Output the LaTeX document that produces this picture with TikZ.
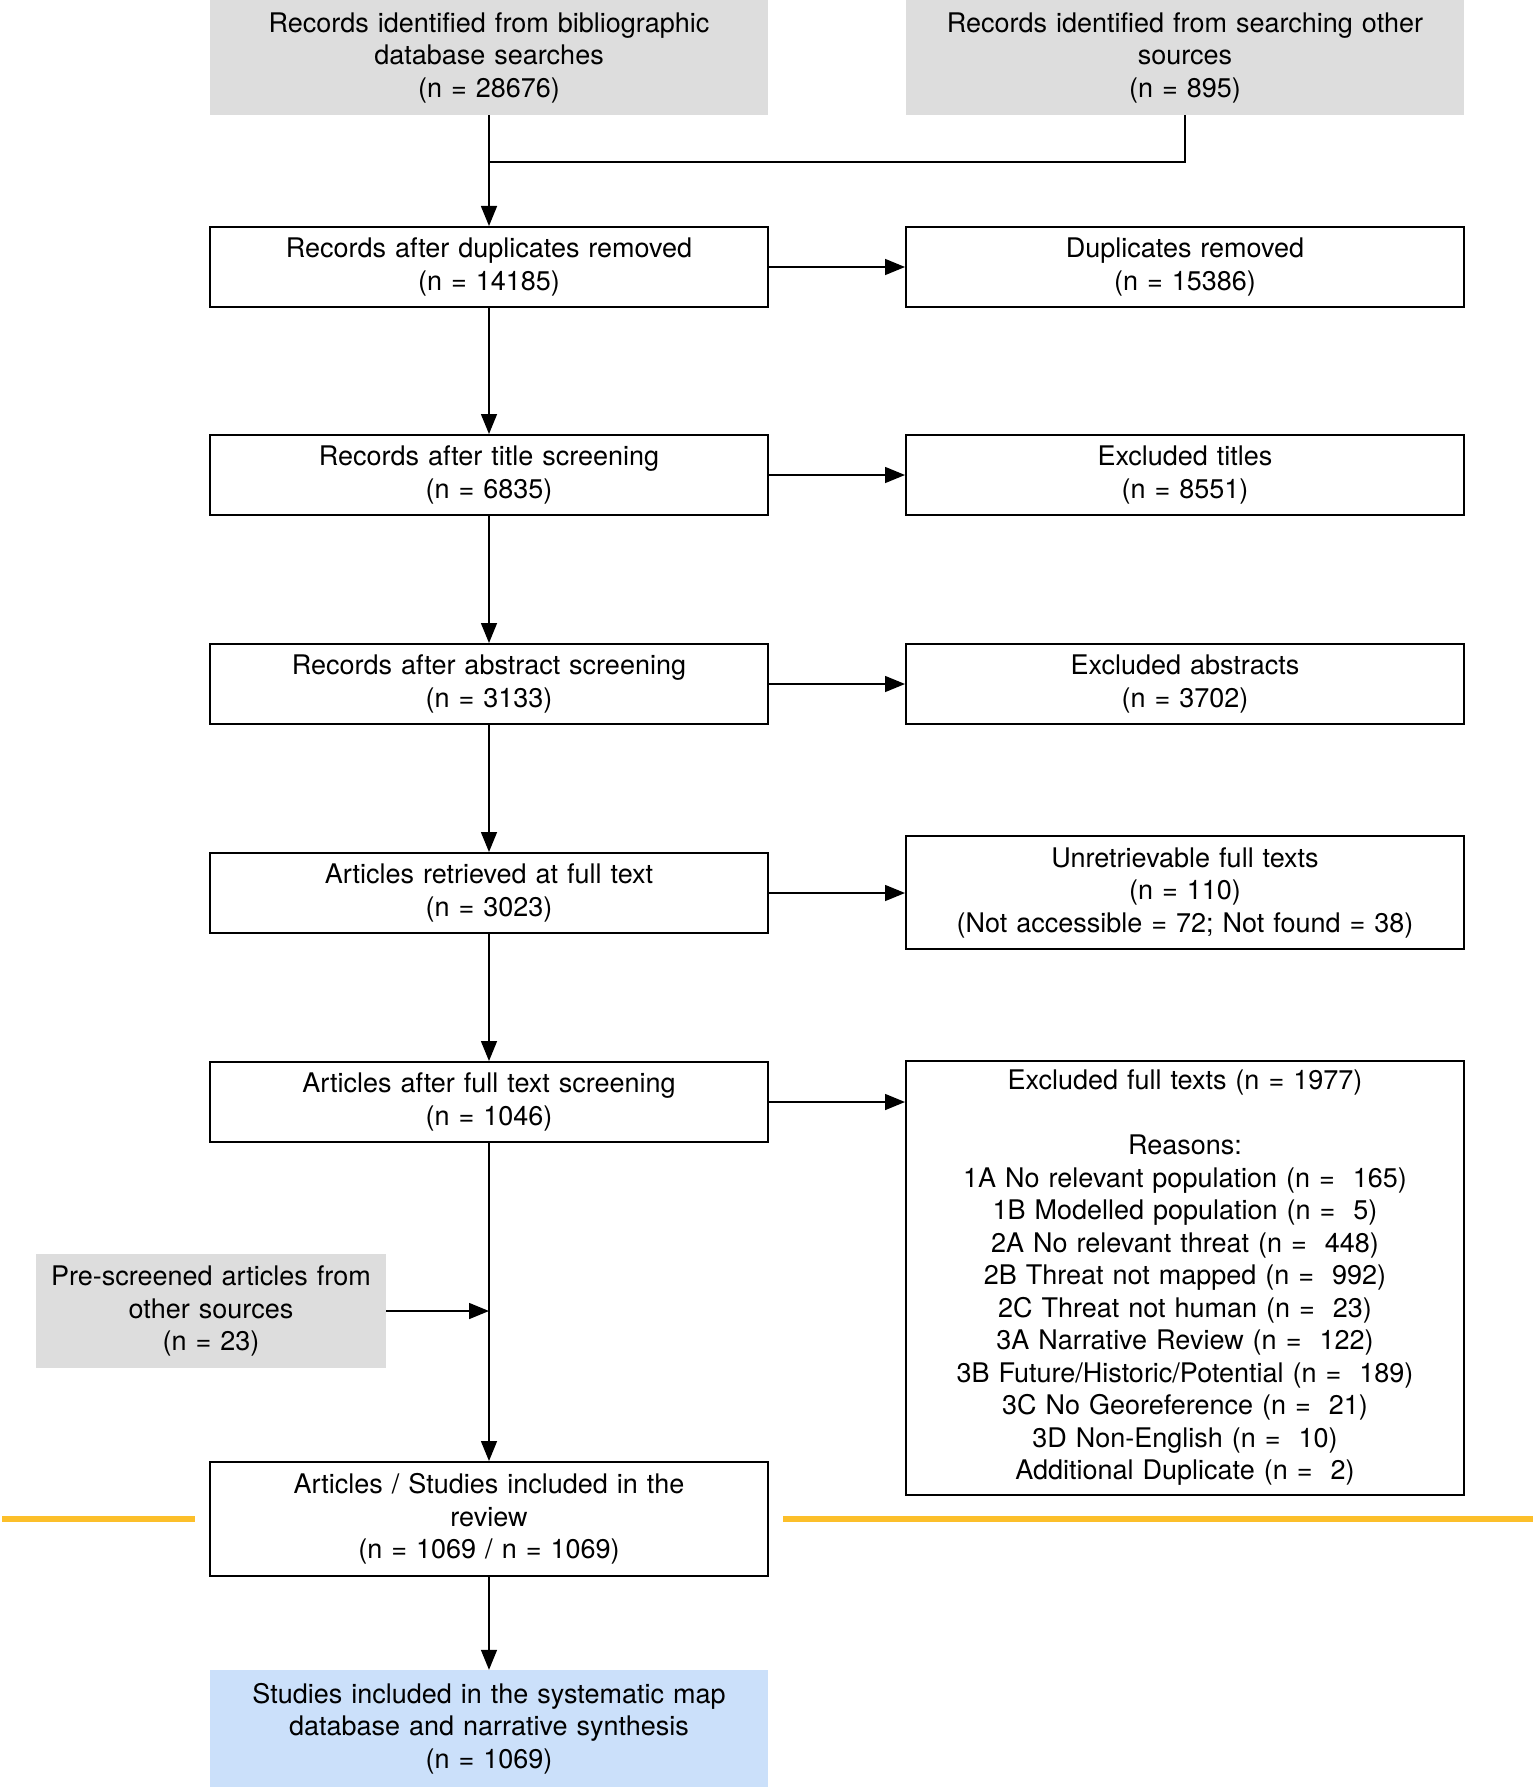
\documentclass[tikz,border=0pt]{standalone}
\usepackage{fontspec}
\setmainfont{TeX Gyre Heros}
\usetikzlibrary{arrows.meta,calc}
\definecolor{greyfill}{HTML}{DDDDDD}
\definecolor{bluefill}{HTML}{CBE0FA}
\definecolor{orangeline}{HTML}{FCBF2A}
\tikzset{
  base/.style={inner sep=0pt, align=center, font=\fontsize{27}{32.5}\selectfont},
  mainbox/.style={base, draw=black, line width=2pt, minimum width=558pt, text width=540pt},
  greybox/.style={base, fill=greyfill, minimum width=558pt, text width=540pt},
  conn/.style={line width=1.5pt, -{Triangle[length=20pt,width=16pt]}},
  plainconn/.style={line width=1.5pt},
  sep/.style={line width=6pt, draw=orangeline}
}
\begin{document}
\begin{tikzpicture}[x=1pt,y=-1pt]
\useasboundingbox (0,0) rectangle (1536,1787);

\node[greybox, minimum height=115pt] (tl) at (489,57.5) {Records identified from bibliographic\\database searches\\(n = 28676)};
\node[greybox, minimum height=115pt] (tr) at (1185,57.5) {Records identified from searching other\\sources\\(n = 895)};

\node[mainbox, minimum height=80pt] (b2) at (489,267) {Records after duplicates removed\\(n = 14185)};
\node[mainbox, minimum height=80pt] (r2) at (1185,267) {Duplicates removed\\(n = 15386)};

\node[mainbox, minimum height=80pt] (b3) at (489,475) {Records after title screening\\(n = 6835)};
\node[mainbox, minimum height=80pt] (r3) at (1185,475) {Excluded titles\\(n = 8551)};

\node[mainbox, minimum height=80pt] (b4) at (489,684) {Records after abstract screening\\(n = 3133)};
\node[mainbox, minimum height=80pt] (r4) at (1185,684) {Excluded abstracts\\(n = 3702)};

\node[mainbox, minimum height=80pt] (b5) at (489,893) {Articles retrieved at full text\\(n = 3023)};
\node[mainbox, minimum height=113pt] (r5) at (1185,892.5) {Unretrievable full texts\\(n = 110)\\(Not accessible = 72; Not found = 38)};

\node[mainbox, minimum height=80pt] (b6) at (489,1102) {Articles after full text screening\\(n = 1046)};
\node[mainbox, minimum height=434pt] (r6) at (1185,1278) {Excluded full texts (n = 1977)\\[32.5pt]Reasons:\\1A No relevant population (n = \ 165)\\1B Modelled population (n = \ 5)\\2A No relevant threat (n = \ 448)\\2B Threat not mapped (n = \ 992)\\2C Threat not human (n = \ 23)\\3A Narrative Review (n = \ 122)\\3B Future/Historic/Potential (n = \ 189)\\3C No Georeference (n = \ 21)\\3D Non-English (n = \ 10)\\Additional Duplicate (n = \ 2)};

\node[base, fill=greyfill, minimum width=350pt, text width=340pt, minimum height=114pt] (pre) at (211,1311) {Pre-screened articles from\\other sources\\(n = 23)};

\node[mainbox, minimum height=114pt] (b7) at (489,1519) {Articles / Studies included in the\\review\\(n = 1069 / n = 1069)};

\node[base, fill=bluefill, minimum width=558pt, text width=540pt, minimum height=117pt] (b8) at (489,1728.5) {Studies included in the systematic map\\database and narrative synthesis\\(n = 1069)};

% separators
\coordinate (sl1) at (2,1519);
\coordinate (sl2) at (195,1519);
\coordinate (sr1) at (783,1519);
\coordinate (sr2) at (1533,1519);
\draw[sep] (sl1) -- (sl2);
\draw[sep] (sr1) -- (sr2);

% merge
\coordinate (merge) at (489,162);
\draw[plainconn] (tr.south) |- (merge);
\draw[conn] (tl.south) -- (b2.north);

% main flow
\draw[conn] (b2.south) -- (b3.north);
\draw[conn] (b3.south) -- (b4.north);
\draw[conn] (b4.south) -- (b5.north);
\draw[conn] (b5.south) -- (b6.north);
\draw[conn] (b6.south) -- (b7.north);
\draw[conn] (b7.south) -- (b8.north);

% side arrows
\draw[conn] (b2.east) -- (b2.east -| r2.west);
\draw[conn] (b3.east) -- (b3.east -| r3.west);
\draw[conn] (b4.east) -- (b4.east -| r4.west);
\draw[conn] (b5.east) -- (b5.east -| r5.west);
\draw[conn] (b6.east) -- (b6.east -| r6.west);

\coordinate (join) at (489,1311);
\draw[conn] (pre.east) -- (join);
\end{tikzpicture}
\end{document}
